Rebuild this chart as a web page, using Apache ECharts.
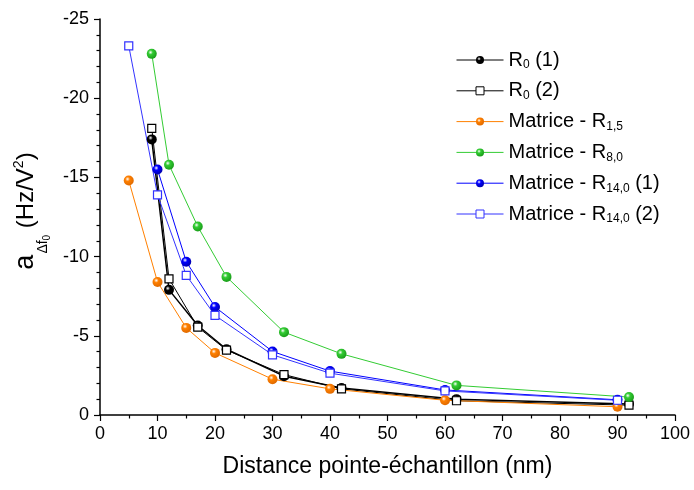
<!DOCTYPE html>
<html>
<head>
<meta charset="utf-8">
<script src="https://cdn.jsdelivr.net/npm/echarts@6/dist/echarts.min.js"></script>
<style>html,body{margin:0;padding:0;background:#fff}#c{width:694px;height:490px}</style>
</head>
<body>
<div id="c"></div>
<script>
// ---- data ----
const seriesNames = ['R0 (1)', 'R0 (2)', 'Matrice - R1,5', 'Matrice - R8,0', 'Matrice - R14,0 (1)', 'Matrice - R14,0 (2)'];
const legendRich = {
  'R0 (1)': '{b|R}{s|0}{b| (1)}',
  'R0 (2)': '{b|R}{s|0}{b| (2)}',
  'Matrice - R1,5': '{b|Matrice - R}{s|1,5}',
  'Matrice - R8,0': '{b|Matrice - R}{s|8,0}',
  'Matrice - R14,0 (1)': '{b|Matrice - R}{s|14,0}{b| (1)}',
  'Matrice - R14,0 (2)': '{b|Matrice - R}{s|14,0}{b| (2)}'
};
const xR0 = [9, 12, 17, 22, 32, 42, 62, 92];
const yR0_1 = [-17.4, -7.9, -5.65, -4.15, -2.45, -1.7, -1.0, -0.7];
const yR0_2 = [-18.1, -8.6, -5.55, -4.1, -2.55, -1.65, -0.9, -0.62];
const xR15 = [5, 10, 15, 20, 30, 40, 60, 90];
const yR15 = [-14.8, -8.4, -5.5, -3.92, -2.26, -1.65, -0.93, -0.52];
const xR80 = [9, 12, 17, 22, 32, 42, 62, 92];
const yR80 = [-22.8, -15.8, -11.9, -8.72, -5.23, -3.86, -1.87, -1.13];
const xR140_1 = [10, 15, 20, 30, 40, 60, 90];
const yR140_1 = [-15.5, -9.68, -6.82, -4.01, -2.77, -1.58, -0.96];
const xR140_2 = [5, 10, 15, 20, 30, 40, 60, 90];
const yR140_2 = [-23.3, -13.9, -8.82, -6.29, -3.8, -2.64, -1.52, -0.93];
const xTicks = {min: 0, max: 100, interval: 10};
const yTicks = {min: -25, max: 0, interval: 5};

const FONT = 'Liberation Sans, Arial, sans-serif';
function pairs(xs, ys) { return xs.map((x, i) => [x, ys[i]]); }
function ball(c, dark) {
  return {type: 'radial', x: 0.38, y: 0.35, r: 0.65,
    colorStops: [{offset: 0, color: '#ffffff'}, {offset: 0.35, color: c}, {offset: 1, color: dark}]};
}
function ballSeries(name, xs, ys, c, dark, lw) {
  return {name, type: 'line', data: pairs(xs, ys), symbol: 'circle', symbolSize: 10,
    itemStyle: {color: ball(c, dark), borderWidth: 0}, lineStyle: {color: c, width: lw}, color: c};
}
function squareSeries(name, xs, ys, c, lw) {
  return {name, type: 'line', data: pairs(xs, ys), symbol: 'rect', symbolSize: 8,
    itemStyle: {color: '#fff', borderColor: c, borderWidth: 1.2}, lineStyle: {color: c, width: lw}, color: c};
}

const chart = echarts.init(document.getElementById('c'), null, {renderer: 'canvas'});
chart.setOption({
  animation: false,
  backgroundColor: '#fff',
  grid: {left: 100, right: 19, top: 19, bottom: 75, containLabel: false},
  legend: {
    orient: 'vertical', left: 451, top: 45, itemWidth: 47, itemHeight: 10, itemGap: 9.8,
    data: seriesNames,
    lineStyle: {width: 1},
    itemStyle: {borderWidth: 1},
    formatter: n => legendRich[n],
    textStyle: {
      fontFamily: FONT, fontSize: 20, color: '#000',
      rich: {
        b: {fontFamily: FONT, fontSize: 20, lineHeight: 22, color: '#000'},
        s: {fontFamily: FONT, fontSize: 12, lineHeight: 8, verticalAlign: 'bottom', color: '#000'}
      }
    }
  },
  xAxis: {
    type: 'value', min: xTicks.min, max: xTicks.max, interval: xTicks.interval,
    name: 'Distance pointe-échantillon (nm)', nameLocation: 'middle', nameGap: 40,
    nameTextStyle: {fontFamily: FONT, fontSize: 23, color: '#000'},
    axisLine: {show: true, lineStyle: {color: '#000', width: 1.5}},
    axisTick: {show: true, inside: false, length: 6, lineStyle: {color: '#000', width: 1.2}},
    minorTick: {show: true, splitNumber: 2, length: 3.5, lineStyle: {color: '#000', width: 1.2}},
    axisLabel: {fontFamily: FONT, fontSize: 18, color: '#000', margin: 10},
    splitLine: {show: false}
  },
  yAxis: {
    type: 'value', min: yTicks.min, max: yTicks.max, interval: yTicks.interval, inverse: true,
    name: '{a|a}{s|Δf}{ss|0}{p| (Hz/V}{sup|2}{p|)}', nameLocation: 'middle', nameGap: 50,
    nameTextStyle: {
      fontFamily: FONT, color: '#000', padding: [0, 0, 0, 12],
      rich: {
        a: {fontFamily: FONT, fontSize: 27, lineHeight: 27, verticalAlign: 'top', padding: [0, 0, 0, 0], color: '#000'},
        s: {fontFamily: FONT, fontSize: 14, lineHeight: 14, verticalAlign: 'top', padding: [24, 0, 0, 1], color: '#000'},
        ss: {fontFamily: FONT, fontSize: 10, lineHeight: 10, verticalAlign: 'top', padding: [30, 0, 0, 0], color: '#000'},
        p: {fontFamily: FONT, fontSize: 24, lineHeight: 24, verticalAlign: 'top', padding: [2.5, 0, 0, 0], color: '#000'},
        sup: {fontFamily: FONT, fontSize: 14, lineHeight: 14, verticalAlign: 'top', padding: [0, 0, 0, 0], color: '#000'}
      }
    },
    axisLine: {show: true, lineStyle: {color: '#000', width: 1.5}},
    axisTick: {show: true, inside: false, length: 6, lineStyle: {color: '#000', width: 1.2}},
    minorTick: {show: true, splitNumber: 5, length: 3.5, lineStyle: {color: '#000', width: 1.2}},
    axisLabel: {fontFamily: FONT, fontSize: 18, color: '#000', margin: 11},
    splitLine: {show: false}
  },
  series: [
    ballSeries(seriesNames[0], xR0, yR0_1, '#000000', '#000000', 1.5),
    squareSeries(seriesNames[1], xR0, yR0_2, '#000000', 1),
    ballSeries(seriesNames[2], xR15, yR15, '#ff8000', '#e06a00', 1),
    ballSeries(seriesNames[3], xR80, yR80, '#33cc33', '#1a9e1a', 1),
    ballSeries(seriesNames[4], xR140_1, yR140_1, '#0000ff', '#0000b0', 1),
    squareSeries(seriesNames[5], xR140_2, yR140_2, '#3333ff', 1)
  ]
});
</script>
</body>
</html>
